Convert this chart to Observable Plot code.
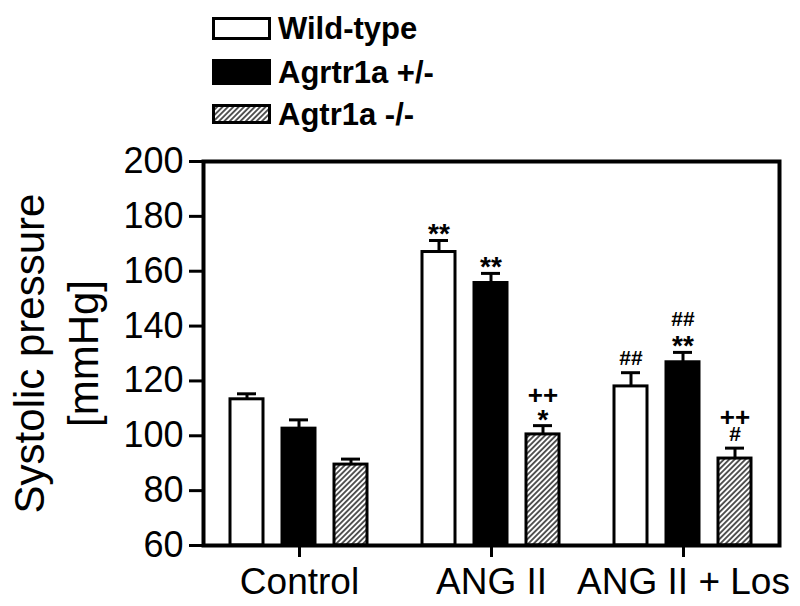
<!DOCTYPE html>
<html>
<head>
<meta charset="utf-8">
<script src="https://cdn.jsdelivr.net/npm/d3@7"></script>
<script src="https://cdn.jsdelivr.net/npm/@observablehq/plot@0.6"></script>
<style>
  body { margin: 0; background: #fff; }
  #wrap { position: relative; width: 800px; font-family: Arial, "Liberation Sans", sans-serif; }
  #legend { position: relative; width: 800px; height: 140px; }
  .row { position: absolute; left: 212px; display: flex; align-items: center; height: 30px; }
  .row svg { display: block; margin-right: 6px; }
  .row span { font-weight: bold; font-size: 31px; line-height: 1; color: #000; }
</style>
</head>
<body>
<div id="wrap">
  <div id="legend"></div>
  <div id="chart"></div>
</div>
<script>
// ---- data ----
const groups = ["Control", "ANG II", "ANG II + Los"];
const genotypes = ["Wild-type", "Agrtr1a +/-", "Agtr1a -/-"];
const wildTypeMean = [113.3, 167.0, 118.0];
const wildTypeSem  = [2.0, 4.2, 5.0];
const hetMean = [102.6, 155.7, 126.8];
const hetSem  = [3.2, 3.5, 3.6];
const koMean = [89.5, 100.5, 91.7];
const koSem  = [2.0, 3.2, 3.8];
// annotations: line nearest the error bar, and line above it
const wildTypeNear = ["", "**", "##"];
const hetNear = ["", "**", "**"];
const koNear = ["", "*", "#"];
const wildTypeUpper = ["", "", ""];
const hetUpper = ["", "", "##"];
const koUpper = ["", "++", "++"];
const yTicks = [60, 80, 100, 120, 140, 160, 180, 200];
const yLabel = "Systolic pressure\n[mmHg]";

// ---- table ----
const means = [wildTypeMean, hetMean, koMean];
const sems = [wildTypeSem, hetSem, koSem];
const nears = [wildTypeNear, hetNear, koNear];
const uppers = [wildTypeUpper, hetUpper, koUpper];
const rows = [];
groups.forEach((g, i) => genotypes.forEach((t, j) => rows.push({
  group: g, genotype: t, mean: means[j][i], sem: sems[j][i],
  near: nears[j][i], upper: uppers[j][i]
})));

const fills = ["white", "black", "url(#hatch)"];
const fontFamily = "Arial, 'Liberation Sans', sans-serif";

const barMarks = genotypes.map((t, j) =>
  Plot.barY(rows.filter(d => d.genotype === t), {
    fx: "group", x: "genotype", y1: 60, y2: "mean",
    fill: fills[j], stroke: "black", strokeWidth: 3
  }));

const chart = Plot.plot({
  width: 800, height: 466,
  marginTop: 21, marginBottom: 61, marginLeft: 202, marginRight: 20,
  style: { fontFamily, background: "#fff", color: "#000", overflow: "visible" },
  fx: { domain: groups, padding: 0, label: null },
  x: { domain: genotypes, paddingInner: 0.358, paddingOuter: 0.5, axis: null },
  y: { domain: [60, 200], axis: null },
  marks: [
    ...barMarks,
    Plot.ruleX(rows, { fx: "group", x: "genotype", y1: "mean", y2: d => d.mean + d.sem, stroke: "black", strokeWidth: 3 }),
    Plot.tickY(rows, { fx: "group", x: "genotype", y: d => d.mean + d.sem, stroke: "black", strokeWidth: 3, inset: 7 }),
    Plot.text(rows.filter(d => d.near.includes("*")), {
      fx: "group", x: "genotype", y: d => d.mean + d.sem, text: "near",
      fontSize: 28, fontWeight: "bold", dy: -6, lineAnchor: "middle", fill: "black"
    }),
    Plot.text(rows.filter(d => d.near.includes("#")), {
      fx: "group", x: "genotype", y: d => d.mean + d.sem, text: "near",
      fontSize: 21, fontWeight: "bold", dy: -14, lineAnchor: "middle", fill: "black"
    }),
    Plot.text(rows.filter(d => d.upper.includes("#")), {
      fx: "group", x: "genotype", y: d => d.mean + d.sem, text: "upper",
      fontSize: 21, fontWeight: "bold", dy: -33, lineAnchor: "middle", fill: "black"
    }),
    Plot.text(rows.filter(d => d.upper.includes("+")), {
      fx: "group", x: "genotype", y: d => d.mean + d.sem, text: "upper",
      fontSize: 26, fontWeight: "bold", dy: -30, lineAnchor: "middle", fill: "black"
    }),
    Plot.axisY({ ticks: yTicks, tickSize: 14, tickPadding: 6, fontSize: 36, strokeWidth: 3, label: null, tickFormat: d => String(d) }),
    Plot.axisFx({ anchor: "bottom", tickSize: 12, tickPadding: 10, fontSize: 37, strokeWidth: 3, label: null }),
    Plot.frame({ facet: "super", stroke: "black", strokeWidth: 4 }),
    Plot.text([yLabel], {
      facet: "super", frameAnchor: "left", rotate: -90, dx: -150,
      fontSize: 42, lineHeight: 1.29, lineAnchor: "middle", textAnchor: "middle", fill: "black"
    })
  ]
});

// hatch pattern
const defs = d3.select(chart).insert("defs", ":first-child");
const pat = defs.append("pattern").attr("id", "hatch")
  .attr("patternUnits", "userSpaceOnUse").attr("width", 3.8).attr("height", 3.8)
  .attr("patternTransform", "rotate(45)");
pat.append("rect").attr("width", 3.8).attr("height", 3.8).attr("fill", "white");
pat.append("line").attr("x1", 1.9).attr("y1", 0).attr("x2", 1.9).attr("y2", 3.8)
  .attr("stroke", "black").attr("stroke-width", 1.3);

document.getElementById("chart").appendChild(chart);

// legend
const legendTops = [13, 57, 99];
const swatchH = [20, 23, 17];
const legend = d3.select("#legend");
genotypes.forEach((t, j) => {
  const row = legend.append("div").attr("class", "row").style("top", legendTops[j] + "px");
  const s = row.append("svg").attr("width", 60).attr("height", swatchH[j] + 3);
  s.append("rect").attr("x", 1.5).attr("y", 1.5).attr("width", 56).attr("height", swatchH[j])
    .attr("fill", fills[j]).attr("stroke", "black").attr("stroke-width", 3);
  row.append("span").text(t);
});
</script>
</body>
</html>
